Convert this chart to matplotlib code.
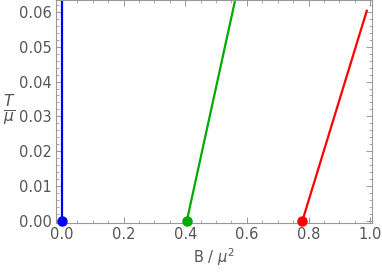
import matplotlib
matplotlib.use("Agg")
import matplotlib.pyplot as plt
from matplotlib.ticker import MultipleLocator

# Data
blue_x = [0.0, 0.0]
blue_y = [0.0, 0.0634]
green_x = [0.405, 0.562]
green_y = [0.0, 0.0634]
red_x = [0.780, 0.989]
red_y = [0.0, 0.0603]
points_x = [0.0, 0.405, 0.780]
points_y = [0.0, 0.0, 0.0]
colors = ["#0000ff", "#00aa00", "#ff0000"]

fig = plt.figure(figsize=(3.82, 2.72), dpi=100)
ax = fig.add_axes([56/382, 49/272, (372-56)/382, 223/272])

ax.plot(blue_x, blue_y, color=colors[0], lw=1.6)
ax.plot(green_x, green_y, color=colors[1], lw=1.6)
ax.plot(red_x, red_y, color=colors[2], lw=1.6)
for x, y, c in zip(points_x, points_y, colors):
    ax.plot([x], [y], 'o', color=c, ms=6.5, clip_on=False, zorder=5)

ax.set_xlim(-0.0195, 1.006)
ax.set_ylim(-0.0006, 0.0634)

ax.xaxis.set_major_locator(MultipleLocator(0.2))
ax.xaxis.set_minor_locator(MultipleLocator(0.05))
ax.yaxis.set_major_locator(MultipleLocator(0.01))
ax.yaxis.set_minor_locator(MultipleLocator(0.002))
ax.xaxis.set_major_formatter(plt.FuncFormatter(lambda v, p: f"{v:.1f}"))
ax.yaxis.set_major_formatter(plt.FuncFormatter(lambda v, p: f"{v:.2f}"))

gray = "#999999"
txt = "#555555"
for s in ax.spines.values():
    s.set_color(gray)
    s.set_linewidth(0.8)
ax.tick_params(which="both", direction="in", top=True, right=True, color=gray,
               labelcolor=txt, labelsize=10.5)
ax.tick_params(which="major", length=4, width=0.7, pad=3)
ax.tick_params(which="minor", length=2, width=0.6)

ax.set_xlabel(r"B / $\mu^2$", color=txt, fontsize=10.5, labelpad=3)
fig.text(9/382, 1 - 110/272, r"$\frac{T}{\mu}$", color=txt, fontsize=16,
         ha="center", va="center")

fig.savefig("out.png", dpi=100)
